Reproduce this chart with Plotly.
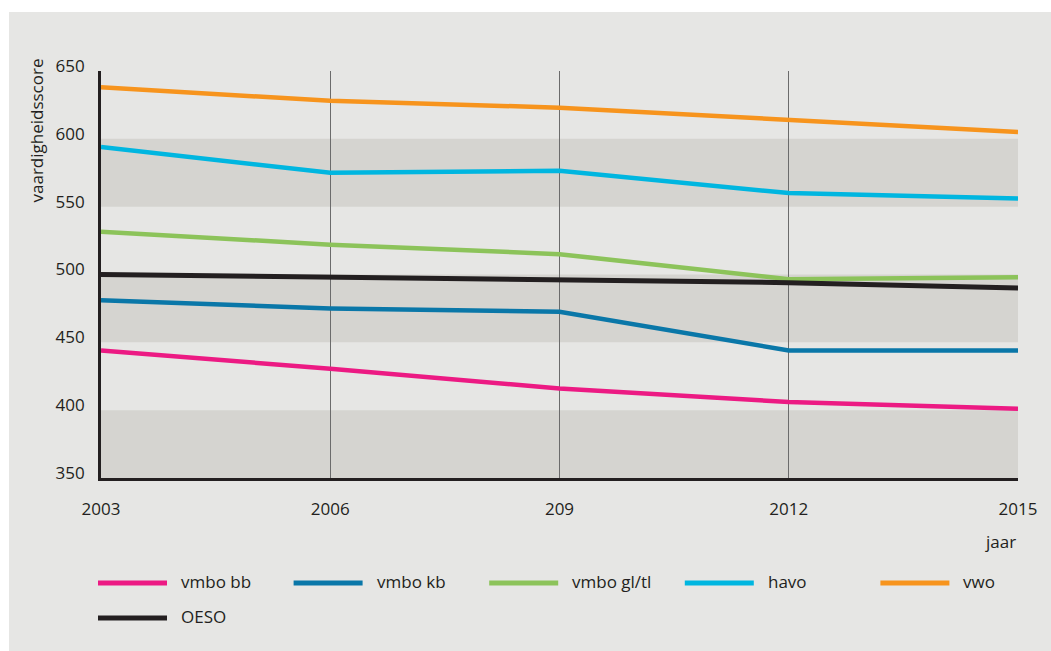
import plotly.graph_objects as go

# ---- data ----
years = [2003, 2006, 2009, 2012, 2015]
year_labels = ["2003", "2006", "209", "2012", "2015"]
series_names = ["vmbo bb", "vmbo kb", "vmbo gl/tl", "havo", "vwo", "OESO"]
vmbo_bb = [444, 430.5, 416, 406, 401]
vmbo_kb = [481, 475, 472.5, 444, 444]
vmbo_gltl = [531.5, 522, 515, 496.5, 498]
havo = [594, 575, 576.5, 560, 556]
vwo = [638, 628, 623, 614, 605]
oeso = [500, 498, 496, 494, 490]
y_ticks = [350, 400, 450, 500, 550, 600, 650]
bands = [(350, 400), (450, 500), (550, 600)]

values = [vmbo_bb, vmbo_kb, vmbo_gltl, havo, vwo, oeso]
colors = ["#ec1a83", "#0a77a8", "#8cc35a", "#00b6e0", "#f7941d", "#231f20"]
widths = [4.5, 4.5, 4.5, 4.5, 4.5, 5]

# ---- layout geometry (pixels) ----
W, H = 1051, 651
ML, MR, MT, MB = 101, 33, 71, 173
PW, PH = W - ML - MR, H - MT - MB


def px(x):
    return (x - ML) / PW


def py(y):
    return (H - MB - y) / PH


FONT = "Open Sans"
TXT = "#231f20"
BG = "#e6e6e4"
BAND = "#d5d4d0"

fig = go.Figure()
for name, vals, col, w in zip(series_names, values, colors, widths):
    fig.add_trace(go.Scatter(x=years, y=vals, mode="lines", name=name,
                             line=dict(color=col, width=w), showlegend=False))

shapes = [dict(type="rect", xref="paper", yref="paper", x0=px(9), x1=px(W),
               y0=py(H), y1=py(12), fillcolor=BG, line=dict(width=0), layer="below")]
for lo, hi in bands:
    shapes.append(dict(type="rect", xref="paper", yref="y", x0=0, x1=1, y0=lo, y1=hi,
                       fillcolor=BAND, line=dict(width=0), layer="below"))

annotations = [
    dict(text="vaardigheidsscore", xref="paper", yref="paper", x=px(36), y=py(130.5),
         textangle=-90, showarrow=False, font=dict(family=FONT, size=17, color=TXT),
         xanchor="center", yanchor="middle"),
    dict(text="jaar", xref="paper", yref="paper", x=px(1018), y=py(541),
         showarrow=False, font=dict(family=FONT, size=17, color=TXT),
         xanchor="right", yanchor="middle"),
]

# manual legend (long swatches as in the reference)
col_w = 195.6
for i, (name, col) in enumerate(zip(series_names, colors)):
    row, c = divmod(i, 5)
    ly = 583 + row * 35
    x0 = 98 + c * col_w
    shapes.append(dict(type="line", xref="paper", yref="paper", x0=px(x0), x1=px(x0 + 69),
                       y0=py(ly), y1=py(ly), line=dict(color=col, width=5)))
    annotations.append(dict(text=name, xref="paper", yref="paper", x=px(x0 + 81), y=py(ly - 2),
                            showarrow=False, xanchor="left", yanchor="middle",
                            font=dict(family=FONT, size=17, color=TXT)))

fig.update_layout(
    width=W, height=H,
    margin=dict(l=ML, r=MR, t=MT, b=MB, pad=0),
    paper_bgcolor="white", plot_bgcolor=BG,
    font=dict(family=FONT, size=17, color=TXT),
    shapes=shapes, annotations=annotations,
    xaxis=dict(range=[2003, 2015], tickvals=years, ticktext=year_labels,
               showgrid=True, gridcolor="#6b6b6b", gridwidth=1.3,
               showline=True, linecolor=TXT, linewidth=2.7, ticks="",
               zeroline=False, ticklabelstandoff=14,
               tickfont=dict(family=FONT, size=17, color=TXT)),
    yaxis=dict(range=[350, 650], tickvals=y_ticks, showgrid=False,
               showline=True, linecolor=TXT, linewidth=2.7, ticks="",
               zeroline=False, ticklabelstandoff=10, ticklabelshift=-5,
               tickfont=dict(family=FONT, size=17, color=TXT)),
)

fig.write_html("out.html", config={"displayModeBar": False},
               post_script="document.body.style.margin='0';document.body.style.padding='0';")
